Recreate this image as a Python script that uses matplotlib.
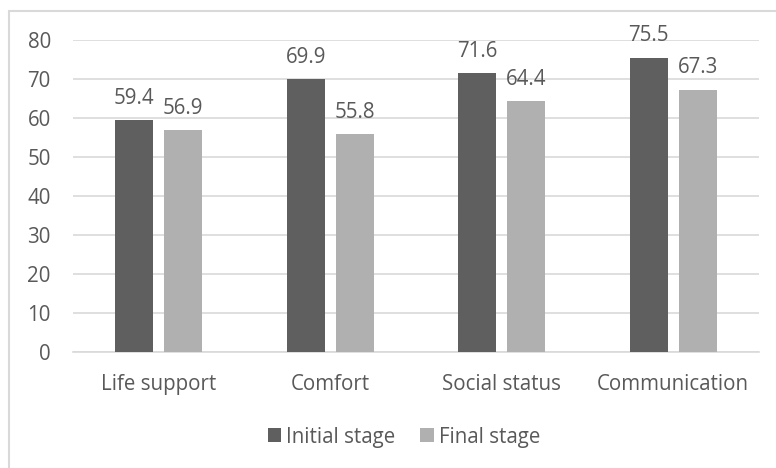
import matplotlib.pyplot as plt
import numpy as np
from matplotlib.patches import Rectangle

categories = ['Life support', 'Comfort', 'Social status', 'Communication']
initial = [59.4, 69.9, 71.6, 75.5]
final = [56.9, 55.8, 64.4, 67.3]
series_names = ['Initial stage', 'Final stage']

plt.rcParams['font.family'] = ['Open Sans', 'DejaVu Sans']
txt = '#595959'
fs = 14.8

fig = plt.figure(figsize=(7.76, 4.68), dpi=100)
W, H = 776, 468
ax = fig.add_axes([73 / W, (H - 352) / H, (759 - 73) / W, (352 - 40) / H])

# outer chart border (only top and left visible in the crop)
fig.patches.append(Rectangle((9 / W, -0.1), 1.2, (H - 11) / H + 0.1,
                             transform=fig.transFigure, fill=False,
                             edgecolor='#d9d9d9', linewidth=1.5))

x = np.arange(len(categories))
bw = 0.222
gap = 0.064
b1 = ax.bar(x - (bw + gap) / 2, initial, bw, color='#5f5f5f', label=series_names[0], zorder=3)
b2 = ax.bar(x + (bw + gap) / 2, final, bw, color='#b0b0b0', label=series_names[1], zorder=3)

for bars in (b1, b2):
    for b in bars:
        ax.annotate(f'{b.get_height():.1f}', (b.get_x() + b.get_width() / 2, b.get_height()),
                    xytext=(0, 8), textcoords='offset points', ha='center', va='bottom',
                    fontsize=fs, color=txt)

ax.set_xlim(-0.5, len(categories) - 0.5)
ax.set_ylim(0, 80)
ax.set_yticks(range(0, 81, 10))
ax.set_xticks(x)
ax.set_xticklabels(categories)
ax.tick_params(axis='both', length=0, labelsize=fs, labelcolor=txt)
ax.tick_params(axis='y', pad=16)
ax.tick_params(axis='x', pad=16)
ax.grid(axis='y', color='#d9d9d9', linewidth=1.2, zorder=0)
for s in ['top', 'right', 'left']:
    ax.spines[s].set_visible(False)
ax.spines['bottom'].set_color('#d9d9d9')
ax.spines['bottom'].set_linewidth(1.2)

fig.legend(loc='center', bbox_to_anchor=(404 / W, (H - 437) / H), ncol=2, frameon=False,
           fontsize=fs, labelcolor=txt, handlelength=0.65, handleheight=0.65,
           handletextpad=0.25, columnspacing=1.2)

fig.savefig('out.png', dpi=100)
